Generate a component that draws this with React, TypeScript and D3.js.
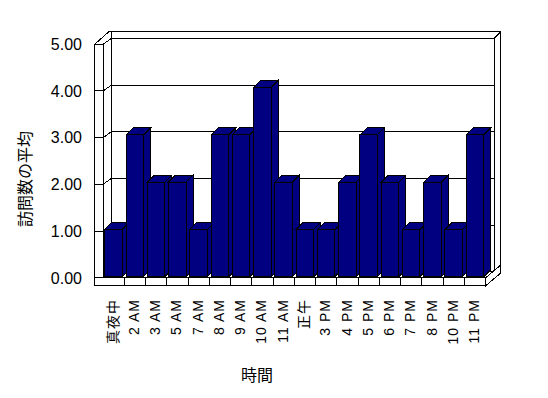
import React from 'react';
import * as d3 from 'd3';

const categories = ['真夜中', '2 AM', '3 AM', '5 AM', '7 AM', '8 AM', '9 AM', '10 AM', '11 AM', '正午', '3 PM', '4 PM', '5 PM', '6 PM', '7 PM', '8 PM', '10 PM', '11 PM'];
const values = [1, 3, 2, 2, 1, 3, 3, 4, 2, 1, 1, 2, 3, 2, 1, 2, 1, 3];
const yTicks = [0, 1, 2, 3, 4, 5];
const yTitle = '訪問数の平均';
const xTitle = '時間';

const W = 548, H = 398;
const FONT = "'Liberation Sans', Arial, 'Noto Sans CJK JP', sans-serif";
const NAVY = '#000080';

export default function App() {
  const x0 = 103, x1 = 485.7;
  const x = d3.scaleBand<string>().domain(categories).range([x0, x1]);
  const y = d3.scaleLinear().domain([0, 5]).range([277.7, 44.3]);
  const yBar = d3.scaleLinear().domain([0, 5]).range([276.7, 276.7 - 5 * 47.3]);
  const wallL = 94.7; // outer left of left wall
  const floorB = 285.7; // bottom of floor slab
  const D: [number, number] = [8.3, -5.8]; // front plane -> back wall face
  const T: [number, number] = [6.5, -6.7]; // back wall thickness
  const B: [number, number] = [7, -7]; // bar depth
  const yTop = y(5);
  const yZero = y(0);
  const bx = (v: number) => v + D[0];
  const by = (v: number) => v + D[1];
  const pts = (a: number[][]) => a.map(p => p.join(',')).join(' ');
  const stroke = { stroke: '#000', strokeWidth: 1, fill: '#fff' };
  const barW = 17.5, barOff = 1.8;

  return (
    <svg width={W} height={H} style={{ position: 'fixed', left: 0, top: 0, background: '#fff' }} shapeRendering="crispEdges">
      {/* back wall top face */}
      <polygon {...stroke} points={pts([[bx(x0), by(yTop)], [bx(x1), by(yTop)], [bx(x1) + T[0], by(yTop) + T[1]], [wallL + D[0] + T[0] - 0.7, by(yTop) + T[1]]])} />
      {/* back wall right side */}
      <polygon {...stroke} points={pts([[bx(x1), by(yTop)], [bx(x1) + T[0], by(yTop) + T[1]], [bx(x1) + T[0], by(yZero) + T[1]], [bx(x1), by(yZero)]])} />
      {/* back wall front face */}
      <rect {...stroke} x={bx(x0)} y={by(yTop)} width={x1 - x0} height={yZero - yTop} />
      {/* gridlines on back wall */}
      {yTicks.filter(t => t > 0 && t < 5).map(t => (
        <line key={'g' + t} x1={bx(x0)} x2={bx(x1)} y1={by(y(t))} y2={by(y(t))} stroke="#000" />
      ))}
      {/* left wall top face */}
      <polygon {...stroke} points={pts([[wallL, yTop], [x0, yTop], [bx(x0), by(yTop)], [bx(x0), by(yTop) + T[1]], [wallL + D[0] + T[0] - 0.7, by(yTop) + T[1]]])} />
      {/* left wall inner face */}
      <polygon {...stroke} points={pts([[x0, yTop], [bx(x0), by(yTop)], [bx(x0), by(yZero)], [x0, yZero]])} />
      {yTicks.filter(t => t > 0 && t < 5).map(t => (
        <line key={'d' + t} x1={x0} y1={y(t)} x2={bx(x0)} y2={by(y(t))} stroke="#000" />
      ))}
      {/* floor top face */}
      <polygon {...stroke} points={pts([[x0, yZero], [x1, yZero], [bx(x1), by(yZero)], [bx(x0), by(yZero)]])} />
      {/* floor right side */}
      <polygon {...stroke} points={pts([[x1, yZero], [bx(x1) + T[0], by(yZero) + T[1]], [bx(x1) + T[0], by(floorB) + T[1]], [x1, floorB]])} />
      {/* left wall front face */}
      <rect {...stroke} x={wallL} y={yTop} width={x0 - wallL} height={floorB - yTop} />
      {yTicks.filter(t => t > 0 && t < 5).map(t => (
        <line key={'t' + t} x1={wallL} x2={x0} y1={y(t)} y2={y(t)} stroke="#000" />
      ))}
      {/* floor front face */}
      <rect {...stroke} x={wallL} y={yZero} width={x1 - wallL} height={floorB - yZero} />
      <line x1={x0} x2={x0} y1={yTop} y2={yZero} stroke="#000" />
      {categories.slice(1).map(c => (
        <line key={'s' + c} x1={x(c)!} x2={x(c)!} y1={yZero} y2={floorB} stroke="#000" />
      ))}
      {/* bars */}
      {categories.map((c, i) => {
        const l = x(c)! + barOff, r = l + barW;
        const b = yBar(0), t = yBar(values[i]);
        return (
          <g key={'b' + c} stroke="#000" strokeWidth={1} fill={NAVY}>
            <polygon points={pts([[r, t], [r + B[0], t + B[1]], [r + B[0], b + B[1]], [r, b]])} />
            <polygon points={pts([[l, t], [l + B[0], t + B[1]], [r + B[0], t + B[1]], [r, t]])} />
            <rect x={l} y={t} width={barW} height={b - t} />
          </g>
        );
      })}
      {/* y tick labels */}
      {yTicks.map(t => (
        <text key={'yl' + t} x={82} y={y(t) + 5.8} textAnchor="end" fontSize={16} fontFamily={FONT} fill="#000">{t.toFixed(2)}</text>
      ))}
      {/* x labels */}
      {categories.map(c => {
        const cx = x(c)! + x.bandwidth() / 2 + 4;
        return (
          <text key={'xl' + c} transform={`translate(${cx},299) rotate(-90)`} textAnchor="end" fontSize={14} letterSpacing={1} fontFamily={FONT} fill="#000">{c}</text>
        );
      })}
      <text transform="translate(31,179) rotate(-90)" textAnchor="middle" fontSize={16} fontFamily={FONT} fill="#000">{yTitle}</text>
      <text x={257} y={381} textAnchor="middle" fontSize={16} fontFamily={FONT} fill="#000">{xTitle}</text>
    </svg>
  );
}
